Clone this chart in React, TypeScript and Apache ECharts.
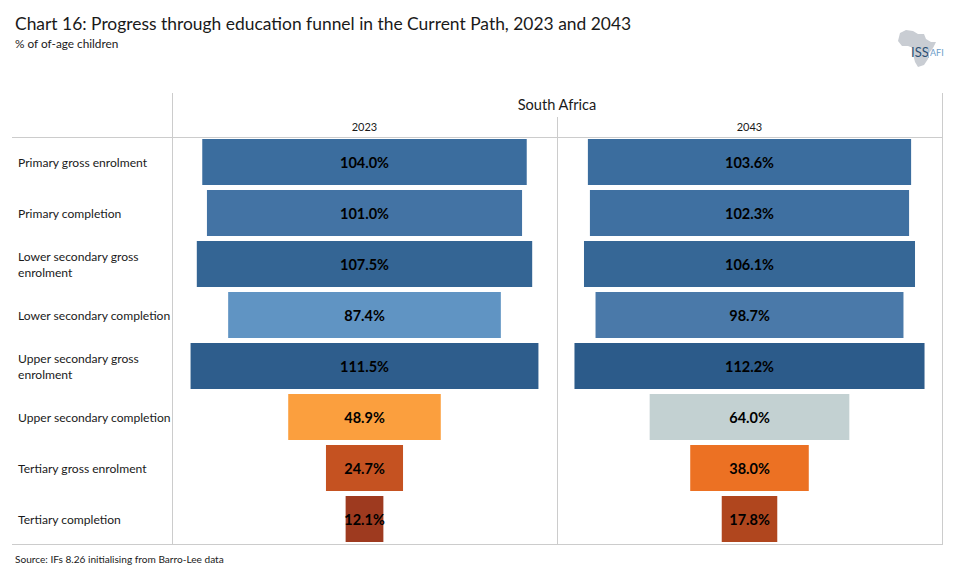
import React, { useEffect, useRef } from "react";
import * as echarts from "echarts";

const categories = [
  "Primary gross enrolment",
  "Primary completion",
  "Lower secondary gross\nenrolment",
  "Lower secondary completion",
  "Upper secondary gross\nenrolment",
  "Upper secondary completion",
  "Tertiary gross enrolment",
  "Tertiary completion",
];
const values2023 = [104.0, 101.0, 107.5, 87.4, 111.5, 48.9, 24.7, 12.1];
const values2043 = [103.6, 102.3, 106.1, 98.7, 112.2, 64.0, 38.0, 17.8];
const colors2023 = ["#3b6d9e", "#4373a4", "#346594", "#6094c3", "#2e5d8c", "#fb9f3e", "#c55221", "#9e3a1f"];
const colors2043 = ["#3b6d9e", "#3f70a1", "#366796", "#4a79a9", "#2c5b8a", "#c3d1d2", "#ec7123", "#b0461e"];
const AXIS_MAX = 123.4;
const FONT = "Lato";
const LINE = "#cccccc";

function makeSeries(values: number[], colors: string[], idx: number) {
  return [
    {
      type: "bar",
      xAxisIndex: idx,
      yAxisIndex: idx,
      stack: "funnel" + idx,
      silent: true,
      barWidth: 46,
      itemStyle: { color: "transparent" },
      data: values.map((v) => (AXIS_MAX - v) / 2),
    },
    {
      type: "bar",
      xAxisIndex: idx,
      yAxisIndex: idx,
      stack: "funnel" + idx,
      barWidth: 46,
      data: values.map((v, i) => ({ value: v, itemStyle: { color: colors[i] } })),
      label: {
        show: true,
        position: "inside",
        formatter: (p: any) => p.value.toFixed(1) + "%",
        fontFamily: FONT,
        fontSize: 14.5,
        fontWeight: "bold",
        color: "#000000",
      },
    },
  ];
}

function hLine(x1: number, x2: number, y: number) {
  return { type: "line", shape: { x1, y1: y, x2, y2: y }, style: { stroke: LINE, lineWidth: 1 }, z: 10 };
}
function vLine(x: number, y1: number, y2: number) {
  return { type: "line", shape: { x1: x, y1, x2: x, y2 }, style: { stroke: LINE, lineWidth: 1 }, z: 10 };
}

export default function App() {
  const ref = useRef<HTMLDivElement>(null);
  useEffect(() => {
    if (!ref.current) return;
    const chart = echarts.init(ref.current, undefined, { renderer: "svg" });
    chart.setOption({
      animation: false,
      backgroundColor: "#ffffff",
      textStyle: { fontFamily: FONT },
      title: [
        { text: "Chart 16: Progress through education funnel in the Current Path, 2023 and 2043", left: 15, top: 15, padding: 0, textStyle: { fontFamily: FONT, fontSize: 17.43, fontWeight: "normal", color: "#1a1a1a" } },
        { text: "% of of-age children", left: 15, top: 37.5, padding: 0, textStyle: { fontFamily: FONT, fontSize: 11.8, fontWeight: "normal", color: "#1a1a1a" } },
        { text: "Source: IFs 8.26 initialising from Barro-Lee data", left: 15, top: 554, padding: 0, textStyle: { fontFamily: FONT, fontSize: 10.1, fontWeight: "normal", color: "#1a1a1a" } },
        { text: "South Africa", left: 557, top: 97, textAlign: "center", padding: 0, textStyle: { fontFamily: FONT, fontSize: 14.6, fontWeight: "normal", color: "#1a1a1a" } },
        { text: "2023", left: 364.5, top: 121, textAlign: "center", padding: 0, textStyle: { fontFamily: FONT, fontSize: 11, fontWeight: "normal", color: "#1a1a1a" } },
        { text: "2043", left: 749.5, top: 121, textAlign: "center", padding: 0, textStyle: { fontFamily: FONT, fontSize: 11, fontWeight: "normal", color: "#1a1a1a" } },
      ],
      grid: [
        { left: 172, top: 136.5, width: 385, height: 408 },
        { left: 557, top: 136.5, width: 385, height: 408 },
      ],
      xAxis: [0, 1].map((i) => ({ type: "value", gridIndex: i, min: 0, max: AXIS_MAX, show: false })),
      yAxis: [0, 1].map((i) => ({
        type: "category",
        gridIndex: i,
        inverse: true,
        data: categories,
        axisLine: { show: false },
        axisTick: { show: false },
        splitLine: { show: false },
        axisLabel: i === 0
          ? { show: true, align: "left", margin: 154, fontFamily: FONT, fontSize: 12.1, lineHeight: 16, color: "#1a1a1a" }
          : { show: false },
      })),
      series: [...makeSeries(values2023, colors2023, 0), ...makeSeries(values2043, colors2043, 1)],
      graphic: [
        hLine(12, 942, 137.5),
        hLine(12, 942, 544.5),
        vLine(172.5, 93, 545),
        vLine(557.5, 117, 545),
        vLine(942.5, 93, 545),
        { type: "polygon", shape: { points: [[900, 33], [906, 30], [913, 31], [918, 34], [924, 34], [926, 39], [931, 42], [936, 42], [933, 48], [929, 53], [928, 59], [924, 65], [918, 67], [915, 62], [913, 54], [913, 48], [908, 46], [902, 46], [898, 41]] }, style: { fill: "#c9cdd3" }, z: 5 },
        { type: "text", x: 911, y: 45.5, style: { text: "ISS", fontFamily: FONT, fontSize: 13, fontWeight: "normal", fill: "#2c4f73" }, z: 6 },
        { type: "text", x: 930, y: 48, style: { text: "AFI", fontFamily: FONT, fontSize: 9, fill: "#6a9cc8" }, z: 6 },
        { type: "line", shape: { x1: 928.5, y1: 48, x2: 928.5, y2: 58 }, style: { stroke: "#9fc0dc", lineWidth: 1 }, z: 6 },
      ],
    });
    return () => chart.dispose();
  }, []);
  return <div ref={ref} style={{ position: "fixed", left: 0, top: 0, width: 955, height: 584 }} />;
}
